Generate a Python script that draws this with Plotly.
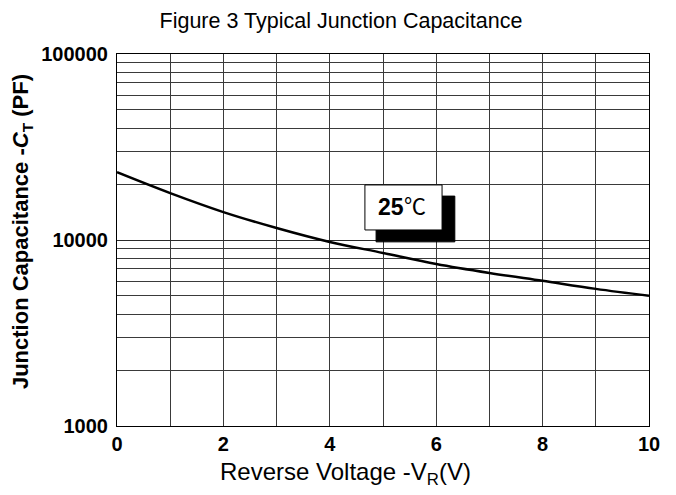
import plotly.graph_objects as go

# Data
voltage = [0, 1, 2, 3, 4, 5, 6, 7, 8, 9, 10]
capacitance = [23150, 17870, 14130, 11600, 9760, 8520, 7435, 6653, 6030, 5460, 5010]

y_tick_vals = [1000, 10000, 100000]
y_tick_text = ["1000", "10000", "100000"]
x_tick_vals = [0, 2, 4, 6, 8, 10]
x_tick_text = ["0", "2", "4", "6", "8", "10"]
minor_mult = [2, 3, 4, 5, 6, 7, 8, 9]
decades = [1000, 10000]
y_minor = [m * d for d in decades for m in minor_mult]
x_minor = [1, 3, 5, 7, 9]

FONT = "Liberation Sans, Arial, sans-serif"
W, H = 668, 487  # page body has an 8px margin

fig = go.Figure()
fig.add_trace(go.Scatter(
    x=voltage, y=capacitance, mode="lines",
    line=dict(color="black", width=2.5, shape="spline", smoothing=1.0),
    showlegend=False, hoverinfo="skip",
))

fig.update_layout(
    width=W, height=H,
    margin=dict(l=109, r=27, t=46, b=69),
    paper_bgcolor="white", plot_bgcolor="white",
    title=dict(text="Figure 3 Typical Junction Capacitance",
               x=333 / W, xanchor="center",
               y=1 - 12 / H, yanchor="middle",
               font=dict(family=FONT, size=21.5, color="black")),
    font=dict(family=FONT, color="black"),
)

fig.update_xaxes(
    range=[0, 10], tickvals=x_tick_vals, ticktext=x_tick_text,
    tickfont=dict(family=FONT, size=20, color="black", weight="bold"),
    showgrid=True, gridcolor="#3a3a3a", gridwidth=1,
    minor=dict(tickvals=x_minor, showgrid=True, gridcolor="#3a3a3a", gridwidth=1, ticks=""),
    showline=True, linecolor="black", linewidth=1, mirror=True,
    ticks="", ticklabelstandoff=0, zeroline=False,
)

fig.update_yaxes(
    type="log", range=[3, 5], tickvals=y_tick_vals, ticktext=y_tick_text,
    tickfont=dict(family=FONT, size=20, color="black", weight="bold"),
    showgrid=True, gridcolor="#2a2a2a", gridwidth=1,
    minor=dict(tickvals=y_minor, showgrid=True, gridcolor="#3a3a3a", gridwidth=1, ticks=""),
    showline=True, linecolor="black", linewidth=1, mirror=True,
    ticks="", ticklabelstandoff=4, zeroline=False,
)

# Axis titles (positioned as in the reference, slightly off-centre)
fig.add_annotation(xref="paper", yref="paper", x=0.430, y=-0.128,
                   text="Reverse Voltage -V<sub>R</sub>(V)", showarrow=False,
                   font=dict(family=FONT, size=24, color="black"),
                   xanchor="center", yanchor="middle")
fig.add_annotation(xref="paper", yref="paper", x=-0.1786, y=0.524,
                   text="Junction Capacitance -<i>C</i><sub>T</sub> (PF)", showarrow=False,
                   textangle=-90,
                   font=dict(family=FONT, size=22, color="black", weight="bold"),
                   xanchor="center", yanchor="middle")

# Label box with drop shadow
fig.add_shape(type="rect", xref="paper", yref="paper",
              x0=0.487, x1=0.635, y0=0.495, y1=0.618,
              fillcolor="black", line=dict(color="black", width=1), layer="above")
fig.add_shape(type="rect", xref="paper", yref="paper",
              x0=0.466, x1=0.611, y0=0.527, y1=0.648,
              fillcolor="white", line=dict(color="black", width=1), layer="above")
fig.add_annotation(xref="paper", yref="paper", x=0.515, y=0.589,
                   text="25", showarrow=False,
                   font=dict(family=FONT, size=23, color="black", weight="bold"),
                   xanchor="center", yanchor="middle")
fig.add_annotation(xref="paper", yref="paper", x=0.561, y=0.597,
                   text="℃", showarrow=False,
                   font=dict(family="Noto Sans CJK SC, sans-serif", size=22, color="black"),
                   xanchor="center", yanchor="middle")

fig.write_html("out.html")
